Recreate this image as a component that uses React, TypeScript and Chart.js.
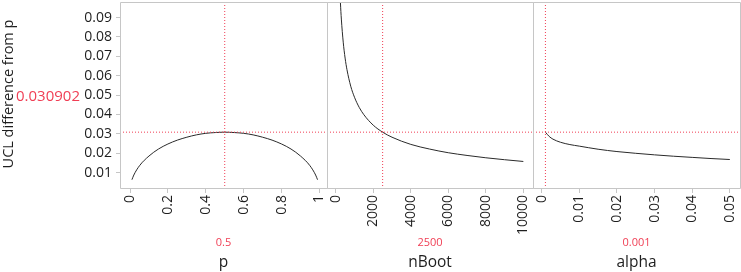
import React, { useEffect, useRef } from "react";
import { Chart, registerables } from "chart.js";

Chart.register(...registerables);

// ---- data ----
const pValues = [0.01, 0.02, 0.05, 0.1, 0.15, 0.2, 0.25, 0.3, 0.35, 0.4, 0.45, 0.5, 0.55, 0.6, 0.65, 0.7, 0.75, 0.8, 0.85, 0.9, 0.95, 0.98, 0.99];
const pDiff = [0.0064, 0.0088, 0.0136, 0.0186, 0.0222, 0.0248, 0.0268, 0.0283, 0.0295, 0.0303, 0.0307, 0.0309, 0.0307, 0.0303, 0.0295, 0.0283, 0.0268, 0.0248, 0.0222, 0.0186, 0.0136, 0.0088, 0.0064];

const nBootValues = [200, 250, 300, 400, 500, 600, 800, 1000, 1250, 1500, 2000, 2500, 3000, 4000, 5000, 6000, 7000, 8000, 9000, 10000];
const nBootDiff = [0.109, 0.0977, 0.0892, 0.0773, 0.0691, 0.0631, 0.0546, 0.0489, 0.0437, 0.0399, 0.0345, 0.0309, 0.0283, 0.0246, 0.0222, 0.0203, 0.0189, 0.0177, 0.0167, 0.0158];

const alphaValues = [0.001, 0.002, 0.003, 0.005, 0.0075, 0.01, 0.015, 0.02, 0.025, 0.03, 0.035, 0.04, 0.045, 0.05];
const alphaDiff = [0.0309, 0.0287, 0.0273, 0.0257, 0.0245, 0.0237, 0.0221, 0.0209, 0.0200, 0.0192, 0.0185, 0.0179, 0.0173, 0.0168];

const yTicks = [0.01, 0.02, 0.03, 0.04, 0.05, 0.06, 0.07, 0.08, 0.09];
const yTickLabels = ["0.01", "0.02", "0.03", "0.04", "0.05", "0.06", "0.07", "0.08", "0.09"];
const pTicks = [0, 0.2, 0.4, 0.6, 0.8, 1];
const pTickLabels = ["0", "0.2", "0.4", "0.6", "0.8", "1"];
const nBootTicks = [0, 2000, 4000, 6000, 8000, 10000];
const nBootTickLabels = ["0", "2000", "4000", "6000", "8000", "10000"];
const alphaTicks = [0, 0.01, 0.02, 0.03, 0.04, 0.05];
const alphaTickLabels = ["0", "0.01", "0.02", "0.03", "0.04", "0.05"];

const currentY = 0.030902;
const currentYLabel = "0.030902";
const factorNames = ["p", "nBoot", "alpha"];
const factorCurrent = [0.5, 2500, 0.001];
const factorCurrentLabels = ["0.5", "2500", "0.001"];

const yMin = 0.0016;
const yMax = 0.098;
const xRanges = [
  [-0.053, 1.04],
  [-465, 10515],
  [-0.0023, 0.0527],
];

// ---- layout / style ----
const W = 741;
const H = 272;
const panelEdges = [120, 327, 533, 740];
const plotTop = 2;
const plotBottom = 189;
const FONT = "'Open Sans', 'Noto Sans', sans-serif";
const RED = "rgb(240,62,84)";
const FRAME = "#c6c6c6";
const TEXT = "#1e1e1e";

const panelX = [pValues, nBootValues, alphaValues];
const panelY = [pDiff, nBootDiff, alphaDiff];
const panelTicks = [pTicks, nBootTicks, alphaTicks];
const panelTickLabels = [pTickLabels, nBootTickLabels, alphaTickLabels];

const framePlugin = {
  id: "frame",
  afterDraw(chart: any) {
    const { ctx, chartArea } = chart;
    const l = Math.round(chartArea.left) + 0.5;
    const r = Math.round(chartArea.right) + 0.5;
    const t = Math.round(chartArea.top) + 0.5;
    const b = Math.round(chartArea.bottom) - 0.5;
    ctx.save();
    ctx.strokeStyle = FRAME;
    ctx.lineWidth = 1;
    ctx.beginPath();
    ctx.moveTo(l, b);
    ctx.lineTo(l, t);
    ctx.lineTo(r, t);
    ctx.lineTo(r, b);
    ctx.lineTo(l, b);
    ctx.stroke();
    ctx.restore();
  },
};

function makeChart(canvas: HTMLCanvasElement, i: number) {
  const xs = panelX[i];
  const ys = panelY[i];
  const curve = xs.map((x, k) => ({ x, y: ys[k] }));
  const cur = factorCurrent[i];
  const [xmin, xmax] = xRanges[i];
  const right = panelEdges[i + 1];
  const left = panelEdges[i];
  const ticks = panelTicks[i];
  const tickLabels = panelTickLabels[i];
  const showY = i === 0;

  return new Chart(canvas, {
    type: "line",
    data: {
      datasets: [
        {
          data: [
            { x: xmin, y: currentY },
            { x: xmax, y: currentY },
          ],
          borderColor: RED,
          borderWidth: 1,
          borderDash: [1, 2],
          pointRadius: 0,
        },
        {
          data: [
            { x: cur, y: yMin },
            { x: cur, y: yMax },
          ],
          borderColor: RED,
          borderWidth: 1,
          borderDash: [1, 2],
          pointRadius: 0,
        },
        {
          data: curve,
          borderColor: "#2a2a2a",
          borderWidth: 1,
          pointRadius: 0,
          cubicInterpolationMode: "monotone",
        },
      ],
    },
    options: {
      animation: false,
      responsive: false,
      devicePixelRatio: 1,
      events: [],
      layout: {
        padding: {
          left: 0,
          right: W - right,
          top: plotTop,
          bottom: 0,
        },
      },
      plugins: {
        legend: { display: false },
        tooltip: { enabled: false },
        title: { display: false },
      },
      scales: {
        x: {
          type: "linear",
          min: xmin,
          max: xmax,
          afterBuildTicks(scale: any) {
            scale.ticks = ticks.map((v) => ({ value: v }));
          },
          afterFit(scale: any) {
            scale.height = H - plotBottom;
            scale.paddingLeft = 0;
            scale.paddingRight = 0;
            scale.paddingTop = 0;
            scale.paddingBottom = 0;
          },
          ticks: {
            autoSkip: false,
            maxRotation: 90,
            minRotation: 90,
            padding: 2,
            color: TEXT,
            font: { family: FONT, size: 14 },
            callback: (_v: any, idx: number) => tickLabels[idx],
          },
          grid: {
            display: true,
            drawOnChartArea: false,
            drawTicks: true,
            tickLength: 4,
            color: FRAME,
          },
          border: { display: false },
        },
        y: {
          type: "linear",
          display: true,
          min: yMin,
          max: yMax,
          afterBuildTicks(scale: any) {
            scale.ticks = yTicks.map((v) => ({ value: v }));
          },
          afterFit(scale: any) {
            scale.width = left;
            scale.paddingLeft = 0;
            scale.paddingRight = 0;
            scale.paddingTop = 0;
            scale.paddingBottom = 0;
          },
          ticks: {
            display: showY,
            autoSkip: false,
            padding: 4,
            color: TEXT,
            font: { family: FONT, size: 14 },
            callback: (_v: any, idx: number) => yTickLabels[idx],
          },
          grid: {
            display: showY,
            drawOnChartArea: false,
            drawTicks: true,
            tickLength: 4,
            color: FRAME,
          },
          border: { display: false },
        },
      },
    },
    plugins: [framePlugin],
  } as any);
}

function Panel({ index }: { index: number }) {
  const ref = useRef<HTMLCanvasElement | null>(null);
  useEffect(() => {
    if (!ref.current) return;
    const chart = makeChart(ref.current, index);
    return () => chart.destroy();
  }, [index]);
  return (
    <canvas
      ref={ref}
      width={W}
      height={H}
      style={{ position: "absolute", left: 0, top: 0, width: W, height: H }}
    />
  );
}

export default function App() {
  useEffect(() => {
    document.body.style.margin = "0";
  }, []);
  const textBase: React.CSSProperties = {
    position: "absolute",
    fontFamily: FONT,
    lineHeight: 1,
    whiteSpace: "nowrap",
  };
  return (
    <div style={{ position: "relative", width: W, height: H, background: "#fff", overflow: "hidden" }}>
      {[0, 1, 2].map((i) => (
        <Panel key={i} index={i} />
      ))}
      <div
        style={{
          ...textBase,
          left: 7.6,
          top: 94,
          fontSize: 14.5,
          color: TEXT,
          transform: "translate(-50%, -50%) rotate(-90deg)",
        }}
      >
        UCL difference from p
      </div>
      <div style={{ ...textBase, left: 16, top: 88, fontSize: 15, color: RED }}>{currentYLabel}</div>
      {[0, 1, 2].map((i) => {
        const cx = (panelEdges[i] + panelEdges[i + 1]) / 2;
        return (
          <React.Fragment key={i}>
            <div
              style={{
                ...textBase,
                left: cx,
                top: 236,
                fontSize: 11,
                color: RED,
                transform: "translateX(-50%)",
              }}
            >
              {factorCurrentLabels[i]}
            </div>
            <div
              style={{
                ...textBase,
                left: cx,
                top: 253.5,
                fontSize: 15.5,
                color: TEXT,
                transform: "translateX(-50%)",
              }}
            >
              {factorNames[i]}
            </div>
          </React.Fragment>
        );
      })}
    </div>
  );
}
